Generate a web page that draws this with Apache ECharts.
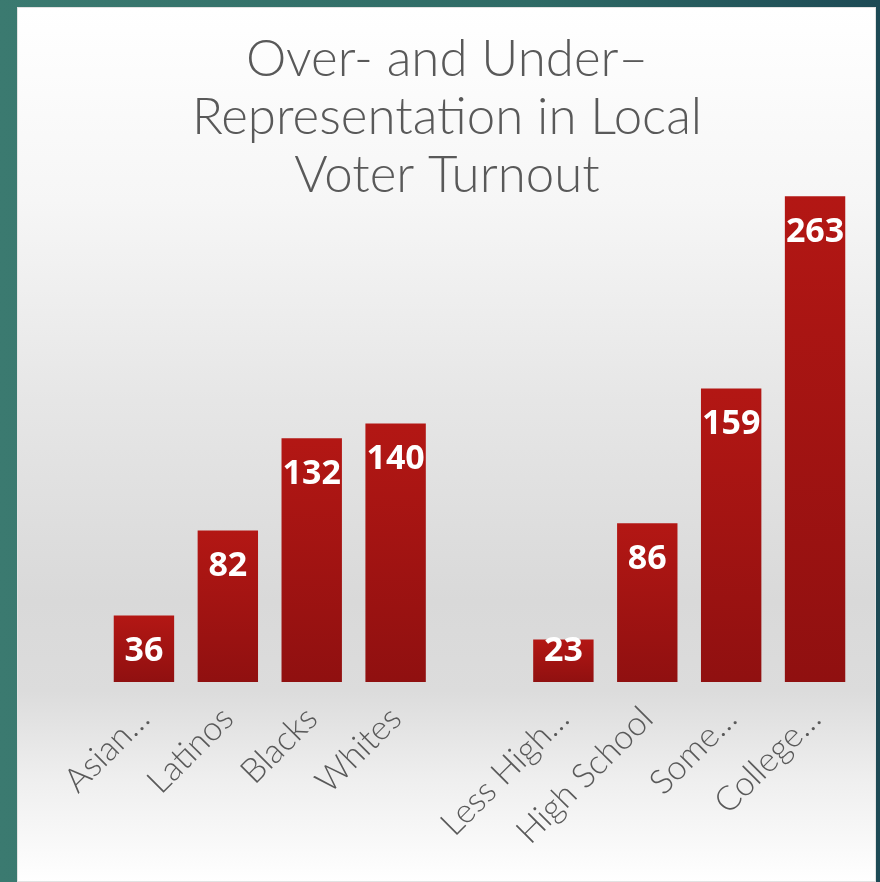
<!DOCTYPE html>
<html>
<head>
<meta charset="utf-8">
<script src="https://cdn.jsdelivr.net/npm/echarts@6.0.0/dist/echarts.min.js"></script>
<style>
  html, body { margin: 0; padding: 0; }
  body {
    width: 880px; height: 882px; overflow: hidden; position: relative;
    background: linear-gradient(90deg, #3b7a70 0%, #2f6b66 60%, #1d4a55 100%);
  }
  #panel {
    position: absolute; left: 17px; top: 7px; width: 859px; height: 875px;
    box-sizing: border-box; border: 1px solid #e2e2e2;
    background: linear-gradient(180deg, #ffffff 0px, #f6f6f6 193px, #e6e6e6 393px,
      #d9d9d9 593px, #dcdcdc 683px, #efefef 773px, #ffffff 875px);
  }
  #main { position: absolute; left: 0; top: 0; width: 880px; height: 882px; }
</style>
</head>
<body>
<div id="panel"></div>
<div id="main"></div>
<script>
  // chart data
  var titleLines = ['Over- and Under\u2013', 'Representation in Local', 'Voter Turnout'];
  var categories = ['Asian\u2026', 'Latinos', 'Blacks', 'Whites', '', 'Less High\u2026', 'High School', 'Some\u2026', 'College\u2026'];
  var values = [36, 82, 132, 140, null, 23, 86, 159, 263];

  var barColor = new echarts.graphic.LinearGradient(0, 0, 0, 1, [
    { offset: 0, color: '#b31714' },
    { offset: 1, color: '#901010' }
  ]);

  // short bars keep the label off the base, like the original
  var barData = values.map(function(v) {
    if (v == null) return '-';
    if (v < 35) {
      return { value: v, label: { position: 'insideBottom', distance: 14 } };
    }
    return v;
  });

  var myChart = echarts.init(document.getElementById('main'), null, { renderer: 'canvas' });

  var option = {
    backgroundColor: 'transparent',
    animation: false,
    graphic: [{
      type: 'text',
      x: 447,
      y: 31,
      style: {
        text: titleLines.join('\n'),
        fill: '#595959',
        font: '300 51px Lato',
        lineHeight: 58,
        textAlign: 'center',
        textVerticalAlign: 'top'
      }
    }],
    grid: {
      left: 102,
      right: 23,
      top: 128,
      bottom: 200
    },
    xAxis: {
      type: 'category',
      data: categories,
      axisLine: { show: false },
      axisTick: { show: false },
      axisLabel: {
        interval: 0,
        rotate: 45,
        margin: 31,
        color: '#595959',
        fontFamily: 'Lato',
        fontWeight: 300,
        fontSize: 34
      }
    },
    yAxis: {
      type: 'value',
      min: 0,
      max: 300,
      show: false,
      splitLine: { show: false }
    },
    series: [{
      type: 'bar',
      data: barData,
      barWidth: '72%',
      itemStyle: { color: barColor },
      label: {
        show: true,
        position: 'insideTop',
        distance: 19,
        color: '#ffffff',
        fontFamily: 'Open Sans',
        fontWeight: 'bold',
        fontSize: 34,
        lineHeight: 34
      }
    }]
  };

  myChart.setOption(option);
</script>
</body>
</html>
